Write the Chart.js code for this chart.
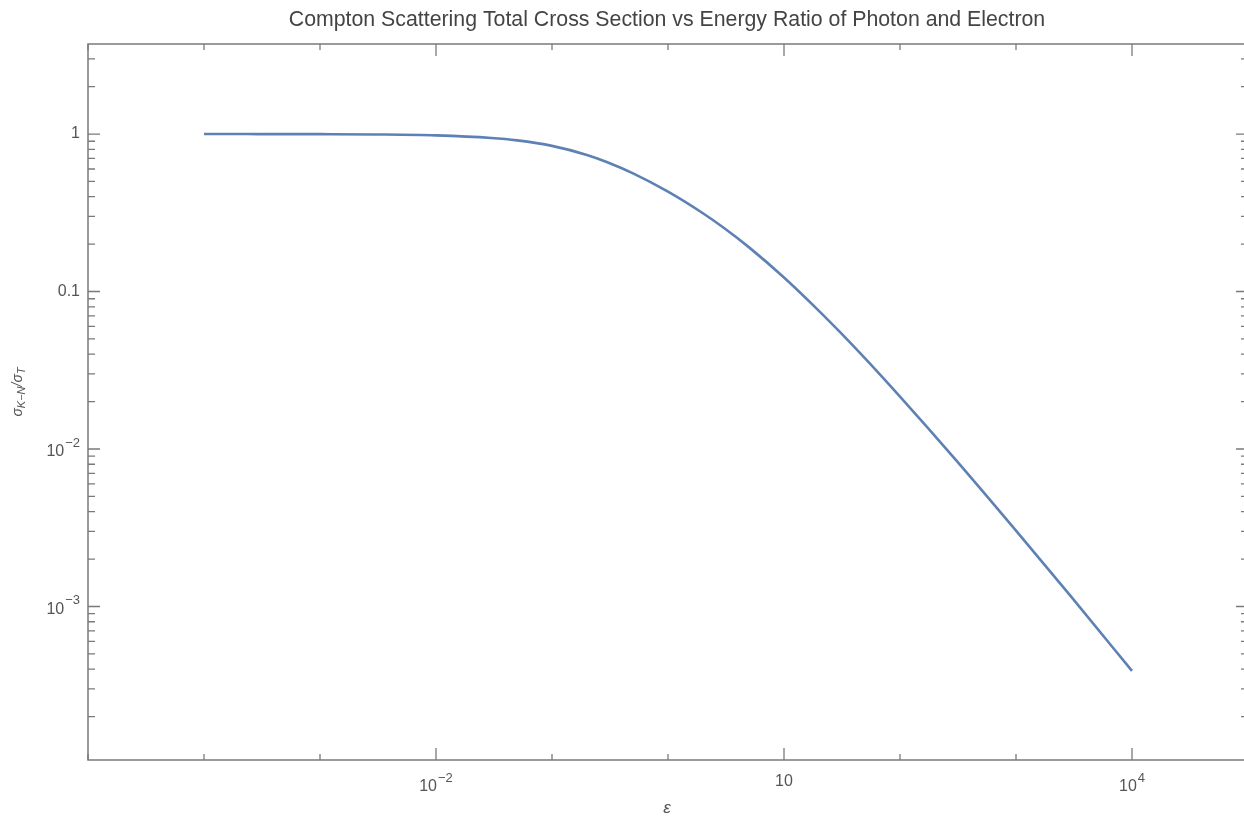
<!DOCTYPE html>
<html>
<head>
<meta charset="utf-8">
<script src="https://cdn.jsdelivr.net/npm/chart.js@4/dist/chart.umd.min.js"></script>
<style>
  html, body { margin: 0; padding: 0; background: #fff; overflow: hidden; }
</style>
</head>
<body>
<!-- a few pixels wider than the window: the right frame edge falls just outside, as in the reference -->
<canvas id="chart" width="1249" height="825"></canvas>
<script>
// --- Data ---
const epsilon = [1e-4, 3e-4, 1e-3, 3e-3, 0.01, 0.03, 0.05, 0.1, 0.2, 0.3, 0.5, 1, 2, 3, 5, 10, 20, 30, 50, 100, 300, 1000, 3000, 10000];
const crossSection = [0.9998, 0.9994, 0.998, 0.994, 0.9805, 0.9443, 0.9115, 0.8413, 0.7369, 0.6627, 0.5628, 0.4307, 0.3141, 0.2549, 0.1907, 0.1228, 0.0754, 0.0558, 0.0376, 0.0215, 0.00859, 0.00303, 0.00115, 0.00039];

// --- Tick labels (base, exponent) ---
const xMajorTicks = [1e-2, 10, 1e4];
const xTickLabels = [['10', '\u22122'], ['10', ''], ['10', '4']];
const yMajorTicks = [1, 0.1, 0.01, 0.001];
const yTickLabels = [['1', ''], ['0.1', ''], ['10', '\u22122'], ['10', '\u22123']];

const titleText = 'Compton Scattering Total Cross Section vs Energy Ratio of Photon and Electron';

const FONT = '"Liberation Sans", Arial, Helvetica, sans-serif';
const lineColor = 'rgb(94, 129, 181)';
const frameColor = '#7a7a7a';
const labelColor = '#555';

function sameValue(a, b) {
    return Math.abs(Math.log10(a) - Math.log10(b)) < 1e-6;
}

// decade ticks on x, 1..9 x 10^k on y
function decadeTicks(lo, hi) {
    const out = [];
    for (let k = lo; k <= hi; k++) out.push({ value: Math.pow(10, k) });
    return out;
}
function logSubTicks(min, max) {
    const out = [];
    for (let k = -5; k <= 1; k++) {
        for (let m = 1; m <= 9; m++) {
            const v = Number((m * Math.pow(10, k)).toPrecision(6));
            if (v >= min && v <= max) out.push({ value: v });
        }
    }
    return out;
}

// draws label with optional superscript exponent
function drawPowerLabel(ctx, parts, x, y, align) {
    const [base, exp] = parts;
    ctx.font = '16px ' + FONT;
    const wb = ctx.measureText(base).width;
    ctx.font = '13px ' + FONT;
    const we = exp ? ctx.measureText(exp).width + 1 : 0;
    const total = wb + we;
    const left = align === 'right' ? x - total : x - total / 2;
    ctx.textAlign = 'left';
    ctx.textBaseline = 'middle';
    ctx.fillStyle = labelColor;
    ctx.font = '16px ' + FONT;
    ctx.fillText(base, left, exp ? y + 3 : y);
    if (exp) {
        ctx.font = '13px ' + FONT;
        ctx.fillText(exp, left + wb + 1, y - 6);
    }
}

const framePlugin = {
    id: 'mathematicaFrame',
    afterDraw(chart) {
        const { ctx, chartArea: a, scales } = chart;
        const xs = scales.x, ys = scales.y;
        ctx.save();

        // frame
        ctx.strokeStyle = frameColor;
        ctx.lineWidth = 1.5;
        ctx.strokeRect(a.left, a.top, a.right - a.left, a.bottom - a.top);

        // x ticks, bottom and top, pointing inward
        ctx.lineWidth = 1.3;
        xs.ticks.forEach(t => {
            const px = xs.getPixelForValue(t.value);
            const len = xMajorTicks.some(v => sameValue(v, t.value)) ? 12 : 6;
            ctx.beginPath();
            ctx.moveTo(px, a.bottom); ctx.lineTo(px, a.bottom - len);
            ctx.moveTo(px, a.top); ctx.lineTo(px, a.top + len);
            ctx.stroke();
        });

        // y ticks, left and right
        ys.ticks.forEach(t => {
            const py = ys.getPixelForValue(t.value);
            const len = yMajorTicks.some(v => sameValue(v, t.value)) ? 12 : 7;
            ctx.beginPath();
            ctx.moveTo(a.left, py); ctx.lineTo(a.left + len, py);
            ctx.moveTo(a.right, py); ctx.lineTo(a.right - len, py);
            ctx.stroke();
        });

        // tick labels
        xMajorTicks.forEach((v, i) => {
            const px = xs.getPixelForValue(v);
            drawPowerLabel(ctx, xTickLabels[i], px, xTickLabels[i][1] ? a.bottom + 24 : a.bottom + 22, 'center');
        });
        yMajorTicks.forEach((v, i) => {
            const py = ys.getPixelForValue(v);
            drawPowerLabel(ctx, yTickLabels[i], a.left - 8, py, 'right');
        });

        // title
        ctx.fillStyle = '#444';
        ctx.font = '21.3px ' + FONT;
        ctx.textAlign = 'center';
        ctx.textBaseline = 'middle';
        ctx.fillText(titleText, 667, 20);

        // x axis label
        ctx.fillStyle = labelColor;
        ctx.font = 'italic 17px ' + FONT;
        ctx.fillText('\u03b5', 667, 808);

        // y axis label: sigma_{K-N} / sigma_T, rotated
        ctx.translate(20, 392);
        ctx.rotate(-Math.PI / 2);
        const pieces = [
            ['\u03c3', 14, 0], ['K\u2212N', 11, 4], ['/', 14, 0], ['\u03c3', 14, 0], ['T', 11, 4]
        ];
        let total = 0;
        pieces.forEach(p => { ctx.font = 'italic ' + p[1] + 'px ' + FONT; total += ctx.measureText(p[0]).width; });
        let cx = -total / 2;
        ctx.textAlign = 'left';
        ctx.textBaseline = 'middle';
        pieces.forEach(p => {
            ctx.font = 'italic ' + p[1] + 'px ' + FONT;
            ctx.fillText(p[0], cx, p[2] - 2);
            cx += ctx.measureText(p[0]).width;
        });

        ctx.restore();
    }
};

const chart = new Chart(document.getElementById('chart').getContext('2d'), {
    type: 'line',
    data: {
        datasets: [{
            data: epsilon.map((e, i) => ({ x: e, y: crossSection[i] })),
            borderColor: lineColor,
            borderWidth: 2.6,
            pointRadius: 0,
            fill: false,
            cubicInterpolationMode: 'monotone'
        }]
    },
    options: {
        responsive: false,
        devicePixelRatio: 1,
        animation: false,
        layout: { padding: { top: 44, right: 1, left: 0, bottom: 0 } },
        plugins: { legend: { display: false }, tooltip: { enabled: false }, title: { display: false } },
        scales: {
            x: {
                type: 'logarithmic',
                min: 1e-5,
                max: 1e5,
                grid: { display: false },
                border: { display: false },
                ticks: { display: false, autoSkip: false },
                afterBuildTicks: s => { s.ticks = decadeTicks(-5, 5); },
                afterFit: s => { s.height = 65; }
            },
            y: {
                type: 'logarithmic',
                min: 1.06e-4,
                max: 3.73,
                grid: { display: false },
                border: { display: false },
                ticks: { display: false, autoSkip: false },
                afterBuildTicks: s => { s.ticks = logSubTicks(1.06e-4, 3.73); },
                afterFit: s => { s.width = 88; }
            }
        }
    },
    plugins: [framePlugin]
});
</script>
</body>
</html>
